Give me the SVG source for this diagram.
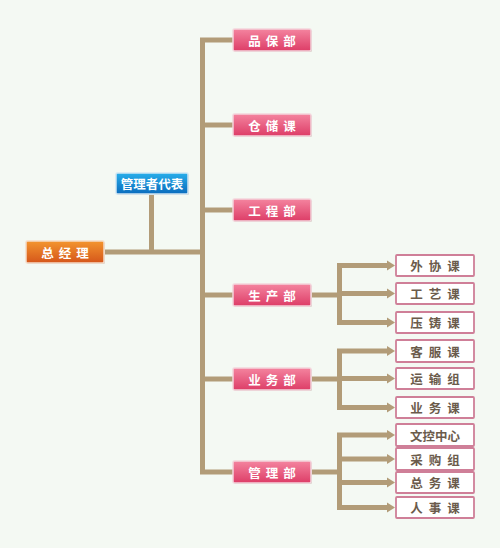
<svg xmlns="http://www.w3.org/2000/svg" width="500" height="548" viewBox="0 0 500 548">
<defs>
<linearGradient id="gPink" x1="0" y1="0" x2="0" y2="1">
<stop offset="0" stop-color="#f4849f"/><stop offset="1" stop-color="#dd3d67"/>
</linearGradient>
<linearGradient id="gOrange" x1="0" y1="0" x2="0" y2="1">
<stop offset="0" stop-color="#f3952f"/><stop offset="1" stop-color="#d5561a"/>
</linearGradient>
<linearGradient id="gBlue" x1="0" y1="0" x2="0" y2="1">
<stop offset="0" stop-color="#28aeea"/><stop offset="1" stop-color="#0a6cbd"/>
</linearGradient>
<marker id="arr" viewBox="0 0 10 10" refX="9" refY="5" markerWidth="2" markerHeight="2.2" markerUnits="strokeWidth" orient="auto">
<path d="M0,0 L10,5 L0,10 z" fill="#b29c78"/>
</marker>
</defs>
<style>
.bg{fill:#f4f9f3}
.ln{stroke:#b29c78;stroke-width:5;fill:none}
.dept{fill:url(#gPink);stroke:#f3d5dc;stroke-width:1.5}
.sub{fill:#ffffff;stroke:#cf7f98;stroke-width:1.8}
.shadow{fill:#d8d2cc}
.wt{font-family:"Noto Sans CJK SC","Noto Sans",sans-serif;font-weight:bold;font-size:12.5px;fill:#ffffff;text-anchor:middle;dominant-baseline:central}
.bt{font-family:"Noto Sans CJK SC","Noto Sans",sans-serif;font-weight:bold;font-size:12.5px;fill:#6b5b4b;text-anchor:middle;dominant-baseline:central}
.sp5{letter-spacing:5px}
.sp6{letter-spacing:6px}
</style>
<rect class="bg" x="0" y="0" width="500" height="548"/>

<g id="connectors">
<path class="ln" d="M104,252 H202.5"/>
<path class="ln" d="M151.5,194 V252"/>
<path class="ln" d="M233,40 H202.5 V472 H233"/>
<path class="ln" d="M202.5,125 H233"/>
<path class="ln" d="M202.5,210 H233"/>
<path class="ln" d="M202.5,295 H233"/>
<path class="ln" d="M202.5,379 H233"/>
<path class="ln" d="M311,295 H339.5"/>
<path class="ln" d="M388,265.5 H339.5 V322.5 H388"/>
<path class="ln" d="M339.5,293.5 H388"/>
<path class="ln" d="M311,379 H339.5"/>
<path class="ln" d="M388,351 H339.5 V407.5 H388"/>
<path class="ln" d="M339.5,378.5 H388"/>
<path class="ln" d="M311,472 H339.5"/>
<path class="ln" d="M388,435 H339.5 V507.5 H388"/>
<path class="ln" d="M339.5,459 H388"/>
<path class="ln" d="M339.5,482.5 H388"/>
<g fill="#b29c78">
<path d="M387,260.5 L395,265.5 L387,270.5 z"/>
<path d="M387,288.5 L395,293.5 L387,298.5 z"/>
<path d="M387,317.5 L395,322.5 L387,327.5 z"/>
<path d="M387,346 L395,351 L387,356 z"/>
<path d="M387,373.5 L395,378.5 L387,383.5 z"/>
<path d="M387,402.5 L395,407.5 L387,412.5 z"/>
<path d="M387,430 L395,435 L387,440 z"/>
<path d="M387,454 L395,459 L387,464 z"/>
<path d="M387,477.5 L395,482.5 L387,487.5 z"/>
<path d="M387,502.5 L395,507.5 L387,512.5 z"/>
</g>
</g>

<g id="n-zongjingli">
<rect class="shadow" x="27" y="242" width="78" height="22" rx="1.5"/>
<rect x="26" y="241" width="78" height="22" rx="1.5" fill="url(#gOrange)" stroke="#f5dcc8" stroke-width="1.5"/>
<text class="wt sp5" x="67.5" y="252">总经理</text>
</g>
<g id="n-daibiao">
<rect class="shadow" x="117" y="174" width="72" height="21" rx="1.5"/>
<rect x="116" y="173" width="72" height="21" rx="1.5" fill="url(#gBlue)" stroke="#cfe6f3" stroke-width="1.5"/>
<text class="wt" x="152" y="183.5">管理者代表</text>
</g>

<g id="n-pinbao">
<rect class="shadow" x="234" y="30" width="78" height="22" rx="1.5"/>
<rect class="dept" x="233" y="29" width="78" height="22" rx="1.5"/>
<text class="wt sp5" x="274.5" y="40">品保部</text>
</g>
<g id="n-cangchu">
<rect class="shadow" x="234" y="115" width="78" height="22" rx="1.5"/>
<rect class="dept" x="233" y="114" width="78" height="22" rx="1.5"/>
<text class="wt sp5" x="274.5" y="125">仓储课</text>
</g>
<g id="n-gongcheng">
<rect class="shadow" x="234" y="200" width="78" height="22" rx="1.5"/>
<rect class="dept" x="233" y="199" width="78" height="22" rx="1.5"/>
<text class="wt sp5" x="274.5" y="210">工程部</text>
</g>
<g id="n-shengchan">
<rect class="shadow" x="234" y="285" width="78" height="22" rx="1.5"/>
<rect class="dept" x="233" y="284" width="78" height="22" rx="1.5"/>
<text class="wt sp5" x="274.5" y="295">生产部</text>
</g>
<g id="n-yewubu">
<rect class="shadow" x="234" y="369" width="78" height="22" rx="1.5"/>
<rect class="dept" x="233" y="368" width="78" height="22" rx="1.5"/>
<text class="wt sp5" x="274.5" y="379">业务部</text>
</g>
<g id="n-guanli">
<rect class="shadow" x="234" y="462" width="78" height="22" rx="1.5"/>
<rect class="dept" x="233" y="461" width="78" height="22" rx="1.5"/>
<text class="wt sp5" x="274.5" y="472">管理部</text>
</g>

<g id="n-waixie">
<rect class="sub" x="396" y="255" width="78" height="21" rx="1"/>
<text class="bt sp6" x="438" y="265.5">外协课</text>
</g>
<g id="n-gongyi">
<rect class="sub" x="396" y="283" width="78" height="21" rx="1"/>
<text class="bt sp6" x="438" y="293.5">工艺课</text>
</g>
<g id="n-yazhu">
<rect class="sub" x="396" y="312" width="78" height="21" rx="1"/>
<text class="bt sp6" x="438" y="322.5">压铸课</text>
</g>
<g id="n-kefu">
<rect class="sub" x="396" y="340" width="78" height="22" rx="1"/>
<text class="bt sp6" x="438" y="351">客服课</text>
</g>
<g id="n-yunshu">
<rect class="sub" x="396" y="368" width="78" height="21" rx="1"/>
<text class="bt sp6" x="438" y="378.5">运输组</text>
</g>
<g id="n-yewuke">
<rect class="sub" x="396" y="397" width="78" height="21" rx="1"/>
<text class="bt sp6" x="438" y="407.5">业务课</text>
</g>
<g id="n-wenkong">
<rect class="sub" x="396" y="424" width="78" height="22" rx="1"/>
<text class="bt" x="435" y="435">文控中心</text>
</g>
<g id="n-caigou">
<rect class="sub" x="396" y="448" width="78" height="22" rx="1"/>
<text class="bt sp6" x="438" y="459">采购组</text>
</g>
<g id="n-zongwu">
<rect class="sub" x="396" y="472" width="78" height="21" rx="1"/>
<text class="bt sp6" x="438" y="482.5">总务课</text>
</g>
<g id="n-renshi">
<rect class="sub" x="396" y="497" width="78" height="21" rx="1"/>
<text class="bt sp6" x="438" y="507.5">人事课</text>
</g>
</svg>
